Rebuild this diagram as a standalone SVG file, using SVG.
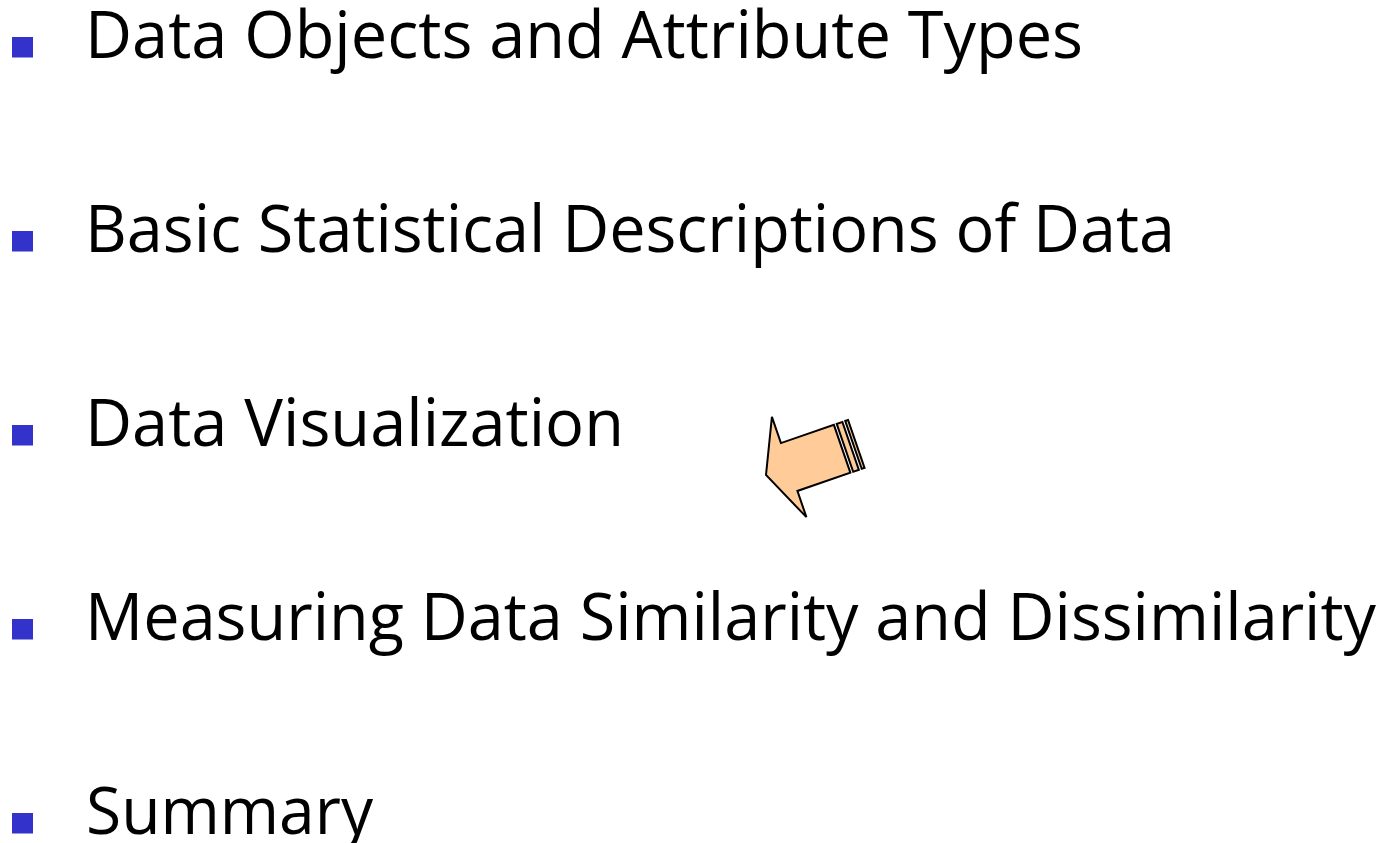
<svg xmlns="http://www.w3.org/2000/svg" width="1388" height="843" viewBox="0 0 1388 843">
<style>
.t{font-family:"Open Sans","Noto Sans",sans-serif;font-size:65px;fill:#000}
.b{fill:#3333CC}
.ar{fill:#FFCC99;stroke:#000;stroke-width:2;stroke-linejoin:miter}
</style>
<rect width="1388" height="843" fill="#fff"/>
<g id="item1">
<rect class="b" x="12" y="37" width="21" height="20.5"/>
<text class="t" x="85" y="57.5" textLength="998" lengthAdjust="spacingAndGlyphs">Data Objects and Attribute Types</text>
</g>
<g id="item2">
<rect class="b" x="12" y="231" width="21" height="20.5"/>
<text class="t" x="85" y="251.5" textLength="1090" lengthAdjust="spacingAndGlyphs">Basic Statistical Descriptions of Data</text>
</g>
<g id="item3">
<rect class="b" x="12" y="425" width="21" height="20.5"/>
<text class="t" x="85" y="445.5" textLength="539" lengthAdjust="spacingAndGlyphs">Data Visualization</text>
</g>
<g id="item4">
<rect class="b" x="12" y="619" width="21" height="20.5"/>
<text class="t" x="85" y="639.5" textLength="1291" lengthAdjust="spacingAndGlyphs">Measuring Data Similarity and Dissimilarity</text>
</g>
<g id="item5">
<rect class="b" x="12" y="813" width="21" height="20.5"/>
<text class="t" x="86" y="833.5" textLength="287" lengthAdjust="spacingAndGlyphs">Summary</text>
</g>
<g id="arrow" transform="translate(766,475) rotate(-19)">
<polygon class="ar" points="0,0 24.5,-53 24.5,-25.3 80.5,-25.3 80.5,25.3 24.5,25.3 24.5,53"/>
<rect class="ar" x="83.5" y="-25.3" width="6" height="50.6"/>
<rect class="ar" x="92.5" y="-25.3" width="3" height="50.6"/>
</g>
</svg>
